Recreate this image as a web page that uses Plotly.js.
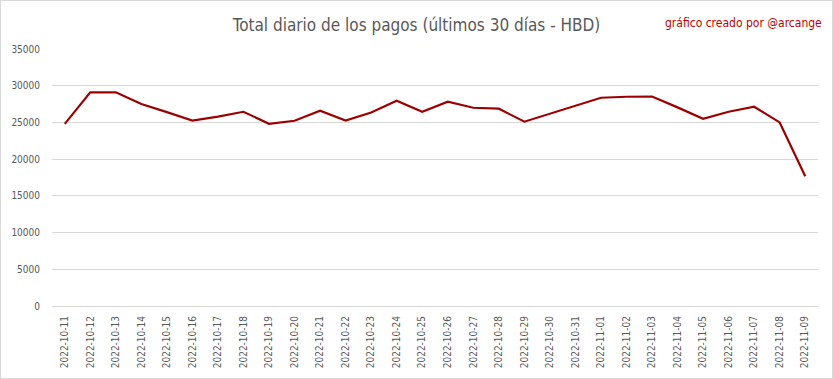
<!DOCTYPE html>
<html>
<head>
<meta charset="utf-8">
<script src="https://cdn.plot.ly/plotly-3.0.1.min.js"></script>
<style>
html,body{margin:0;padding:0;background:#fff;}
#chart{width:831px;height:377px;border:1px solid #d9d9d9;}
</style>
</head>
<body>
<div id="chart"></div>
<script>
const dates = ["2022-10-11","2022-10-12","2022-10-13","2022-10-14","2022-10-15","2022-10-16","2022-10-17","2022-10-18","2022-10-19","2022-10-20","2022-10-21","2022-10-22","2022-10-23","2022-10-24","2022-10-25","2022-10-26","2022-10-27","2022-10-28","2022-10-29","2022-10-30","2022-10-31","2022-11-01","2022-11-02","2022-11-03","2022-11-04","2022-11-05","2022-11-06","2022-11-07","2022-11-08","2022-11-09"];
const totals = [24800,29100,29100,27500,26400,25250,25800,26450,24820,25230,26600,25250,26350,27950,26450,27820,27000,26870,25100,26180,27180,28360,28500,28520,27050,25500,26450,27140,25000,17680];
const yTicks = [0,5000,10000,15000,20000,25000,30000,35000];

const FONT = 'DejaVu Sans Condensed, Open Sans, sans-serif';
const trace = {
  x: dates, y: totals, type: 'scatter', mode: 'lines',
  line: {color: '#9c0000', width: 2.2},
  hoverinfo: 'skip'
};
const layout = {
  width: 831, height: 377,
  margin: {l: 51, r: 14, t: 48, b: 72},
  paper_bgcolor: '#fff', plot_bgcolor: '#fff',
  font: {family: FONT, color: '#595959', size: 10},
  title: {text: 'Total diario de los pagos (últimos 30 días - HBD)', x: 0.5, xanchor: 'center', y: 0.935, yanchor: 'middle',
          font: {size: 17, color: '#595959', family: FONT}},
  xaxis: {type: 'category', range: [-0.5, dates.length - 0.5], tickangle: -90, showgrid: false, showline: false, zeroline: false,
          ticks: 'outside', ticklen: 5, tickcolor: 'rgba(0,0,0,0)',
          tickfont: {size: 10, color: '#595959', family: FONT}, fixedrange: true},
  yaxis: {range: [0, 35000], tickvals: yTicks, ticktext: yTicks.map(String), showgrid: true, gridcolor: '#d9d9d9', gridwidth: 1,
          zeroline: true, zerolinecolor: '#d9d9d9', zerolinewidth: 1, showline: false,
          ticks: 'outside', ticklen: 9, tickcolor: 'rgba(0,0,0,0)',
          tickfont: {size: 10, color: '#595959', family: FONT}, fixedrange: true},
  showlegend: false,
  annotations: [{text: 'gráfico creado por @arcange', xref: 'paper', yref: 'paper', x: 1.008, y: 1.0, xanchor: 'right', yanchor: 'bottom',
                 yshift: 17, showarrow: false, font: {size: 12, color: '#c00000', family: FONT}}]
};
Plotly.newPlot('chart', [trace], layout, {displayModeBar: false, staticPlot: true});
</script>
</body>
</html>
